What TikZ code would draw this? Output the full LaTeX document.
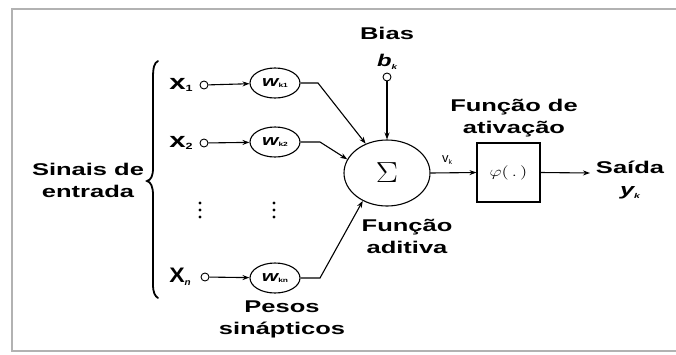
\documentclass[tikz,border=0pt]{standalone}
\usepackage{fontspec}
\setmainfont{Liberation Sans}
\usepackage{graphicx}
\usetikzlibrary{shapes.geometric,arrows.meta}
\newcommand{\wide}[1]{\scalebox{1.5}[1]{\begin{tabular}{@{}c@{}}#1\end{tabular}}}
\newcommand{\wlab}[1]{\scalebox{1.4}[1]{{\fontsize{15}{15}\selectfont\bfseries\itshape w}\raisebox{-0.35ex}{\fontsize{6}{6}\selectfont\bfseries #1}}}
\begin{document}
\begin{tikzpicture}[x=1pt,y=-1pt,
  txt/.style={font=\fontsize{17}{22}\selectfont\bfseries, inner sep=0pt},
  conn/.style={line width=1.1pt, draw=black},
  arr/.style={conn, -{Stealth[length=7pt,width=5pt]}},
  term/.style={circle, draw, line width=0.9pt, inner sep=0pt, minimum size=8pt},
  wnode/.style={ellipse, draw, line width=1.1pt, inner sep=0pt, minimum width=50pt, minimum height=30pt},
]
\useasboundingbox (0,0) rectangle (676,354);
\draw[draw=black!30, line width=2pt] (12,9) rectangle (700,351);

% input terminals and labels
\node[txt] (lx1) at (181,85) {\scalebox{1.4}[1]{{\fontsize{21}{21}\selectfont x}\raisebox{-0.3ex}{\fontsize{9}{9}\selectfont 1}}};
\node[txt] (lx2) at (181,143) {\scalebox{1.4}[1]{{\fontsize{21}{21}\selectfont x}\raisebox{-0.3ex}{\fontsize{9}{9}\selectfont 2}}};
\node[txt] (lxn) at (180,277) {\scalebox{1.1}[1]{{\fontsize{21}{21}\selectfont X}\raisebox{-0.3ex}{\fontsize{9}{9}\selectfont\itshape n}}};
\node[term] (x1) at (204,85) {};
\node[term] (x2) at (204,143) {};
\node[term] (xn) at (205,277) {};

% weights
\node[wnode] (w1) at (275,83) {\wlab{k1}};
\node[wnode] (w2) at (275,142) {\wlab{k2}};
\node[wnode] (wn) at (275,278) {\wlab{kn}};

% summing junction
\node[ellipse, draw, line width=1.1pt, minimum width=86pt, minimum height=66pt, inner sep=0pt] (sig) at (387,173) {\scalebox{1.6}[1.4]{\fontsize{20}{20}\selectfont$\Sigma$}};

% bias
\node[txt] (bias) at (387,35) {\wide{Bias}};
\node[txt] (bk) at (387,62) {\scalebox{1.4}[1]{{\itshape b}\raisebox{-0.35ex}{\fontsize{7}{7}\selectfont\itshape k}}};
\node[term] (b) at (387,77) {};

% activation
\node[draw, line width=1.1pt, minimum width=63pt, minimum height=59pt, inner sep=0pt] (phi) at (508.5,172.5) {\fontsize{14}{14}\selectfont\rmfamily\scalebox{1.3}[1]{$\varphi(\,.\,)$}};
\node[font=\fontsize{13}{13}\selectfont\rmfamily, inner sep=0pt] (vk) at (447,160) {v\raisebox{-0.4ex}{\fontsize{7}{7}\selectfont k}};
\coordinate (out) at (590,173);

% texts
\node[txt] (sinais) at (88,182) {\wide{Sinais de\\entrada}};
\node[txt] (ativ) at (514,118) {\wide{Função de\\ativação}};
\node[txt] (adit) at (407,238) {\wide{Função\\aditiva}};
\node[txt] (pesos) at (282,319) {\wide{Pesos\\sinápticos}};
\node[txt] (saida) at (630,180) {\wide{Saída\\{\itshape y}\raisebox{-0.35ex}{\fontsize{7}{7}\selectfont\itshape k}}};

% brace
\draw[line width=1.8pt, line cap=round] (158,61) .. controls (154,63) and (153,68) .. (153,78) -- (153,168) .. controls (153,176) and (151,180) .. (147,181) .. controls (151,182) and (153,187) .. (153,195) -- (153,284) .. controls (153,293) and (155,296) .. (158,298);

% vertical dots
\foreach \yy in {203,210,217} {
  \fill (200,\yy) circle (1.7pt);
  \fill (274,\yy) circle (1.7pt);
}

% connectors
\draw[arr] (x1) -- (w1);
\draw[arr] (x2) -- (w2);
\draw[arr] (xn) -- (wn);
\coordinate (k1) at (318,83);
\coordinate (k2) at (320,142);
\coordinate (kn) at (320,278);
\draw[arr] (w1.east) -- (k1) -- (sig.126);
\draw[arr] (w2.east) -- (k2) -- (sig.161);
\draw[arr] (wn.east) -- (kn) -- (sig.229);
\draw[arr] (b) -- (sig.north);
\draw[arr] (sig.east) -- (phi.west);
\draw[arr] (phi.east) -- (out);
\end{tikzpicture}
\end{document}
